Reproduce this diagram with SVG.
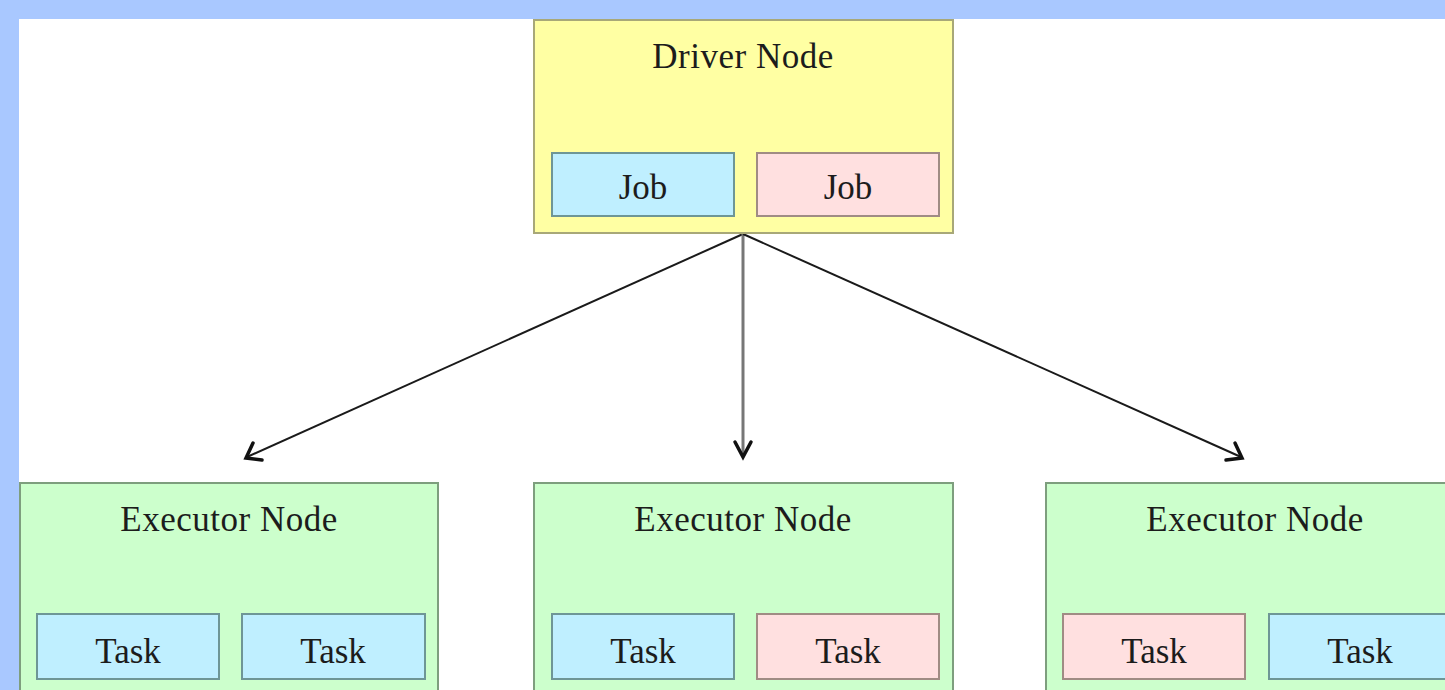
<svg xmlns="http://www.w3.org/2000/svg" width="1445" height="690" viewBox="0 0 1445 690">
<defs>
<style>
.title{font-family:"Liberation Serif","Times New Roman",serif;font-size:35px;fill:#1c1c1c;text-anchor:middle;letter-spacing:0.5px}
.lbl{font-family:"Liberation Serif","Times New Roman",serif;font-size:35px;fill:#1c1c1c;text-anchor:middle}
.drv{fill:#FFFFA3;stroke:#A8A878;stroke-width:2}
.exe{fill:#CCFFCC;stroke:#7E9E7E;stroke-width:2}
.blue{fill:#BFEFFF;stroke:#6E9696;stroke-width:2}
.pink{fill:#FFE0E0;stroke:#A08C84;stroke-width:2}
.edge{fill:none;stroke:#1a1a1a;stroke-width:2}
.arr{fill:none;stroke:#111;stroke-width:3.5;stroke-linecap:round;stroke-linejoin:miter}
</style>
</defs>
<rect x="0" y="0" width="1445" height="690" fill="#A9C8FF"/>
<rect x="19" y="19" width="1426" height="671" fill="#FFFFFF"/>

<g id="connectors">
<line class="edge" x1="743" y1="234" x2="247" y2="457"/>
<path class="arr" d="M253,443 L246,458 L262,460"/>
<line class="edge" x1="743" y1="234" x2="743" y2="456" style="stroke:#777;stroke-width:3"/>
<path class="arr" d="M735,442 L743,457 L751,442"/>
<line class="edge" x1="743" y1="234" x2="1241" y2="457"/>
<path class="arr" d="M1226,460 L1242,458 L1235,443"/>
</g>

<g id="driver">
<rect class="drv" x="534" y="20" width="419" height="213"/>
<text class="title" x="743" y="68">Driver Node</text>
<g id="driver-job1">
<rect class="blue" x="552" y="153" width="182" height="63"/>
<text class="lbl" x="643" y="199">Job</text>
</g>
<g id="driver-job2">
<rect class="pink" x="757" y="153" width="182" height="63"/>
<text class="lbl" x="848" y="199">Job</text>
</g>
</g>

<g id="executor1">
<rect class="exe" x="20" y="483" width="418" height="220"/>
<text class="title" x="229" y="531">Executor Node</text>
<g id="exec1-task1">
<rect class="blue" x="37" y="614" width="182" height="65"/>
<text class="lbl" x="128" y="663">Task</text>
</g>
<g id="exec1-task2">
<rect class="blue" x="242" y="614" width="183" height="65"/>
<text class="lbl" x="333" y="663">Task</text>
</g>
</g>

<g id="executor2">
<rect class="exe" x="534" y="483" width="419" height="220"/>
<text class="title" x="743" y="531">Executor Node</text>
<g id="exec2-task1">
<rect class="blue" x="552" y="614" width="182" height="65"/>
<text class="lbl" x="643" y="663">Task</text>
</g>
<g id="exec2-task2">
<rect class="pink" x="757" y="614" width="182" height="65"/>
<text class="lbl" x="848" y="663">Task</text>
</g>
</g>

<g id="executor3">
<rect class="exe" x="1046" y="483" width="419" height="220"/>
<text class="title" x="1255" y="531">Executor Node</text>
<g id="exec3-task1">
<rect class="pink" x="1063" y="614" width="182" height="65"/>
<text class="lbl" x="1154" y="663">Task</text>
</g>
<g id="exec3-task2">
<rect class="blue" x="1269" y="614" width="182" height="65"/>
<text class="lbl" x="1360" y="663">Task</text>
</g>
</g>
</svg>
